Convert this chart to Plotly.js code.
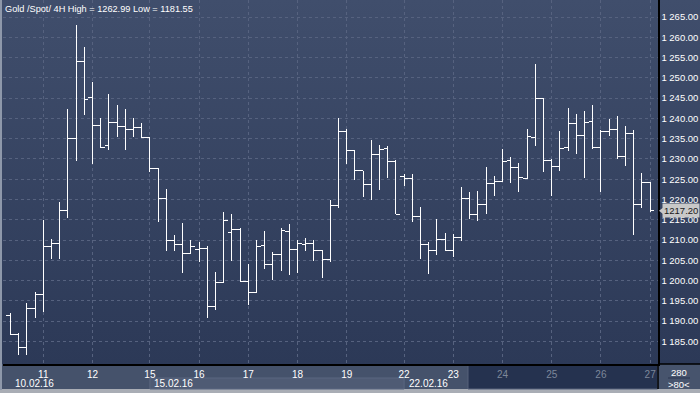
<!DOCTYPE html>
<html><head><meta charset="utf-8">
<script src="https://cdn.plot.ly/plotly-3.0.1.min.js"></script>
<style>
html,body{margin:0;padding:0;background:#2c3957;overflow:hidden;}
#chart{width:700px;height:393px;background:linear-gradient(to bottom,#404e6c 0px,#2c3957 364px,#45526b 364px,#45526b 389px,#a9adb5 389px,#a9adb5 393px);}
#chart .ohlc path{shape-rendering:crispEdges;}
</style></head><body><div id="chart"></div>
<script>
// ---- data (Gold /Spot/ 4H bars, 10.02.16 - 26.02.16) ----
const opens = [1191.44,1186.75,1183.55,1193.17,1196.62,1208.37,1209.20,1217.33,1235.09,1254.08,
1245.04,1238.29,1233.20,1239.03,1238.05,1237.31,1237.80,1235.17,1227.69,1220.21,
1209.77,1208.95,1206.73,1207.72,1207.96,1193.66,1199.58,1211.91,1212.65,1199.82,
1197.11,1208.70,1204.02,1206.48,1212.15,1207.72,1208.95,1209.20,1207.30,1205.25,
1218.57,1236.82,1232.13,1227.12,1223.74,1231.14,1232.70,1229.42,1225.55,1225.22,
1215.77,1208.95,1207.30,1210.18,1207.47,1210.67,1220.21,1216.35,1218.89,1223.91,
1224.40,1229.66,1227.94,1225.22,1235.33,1244.95,1229.66,1228.02,1232.87,1238.71,
1235.83,1239.28,1232.87,1236.82,1237.31,1230.65,1236.32,1218.81,1224.24];
const highs = [1191.93,1187.00,1194.56,1197.28,1214.95,1210.18,1219.31,1242.24,1262.99,1257.53,
1248.90,1240.02,1246.02,1243.31,1242.32,1240.02,1238.79,1235.33,1227.69,1222.51,
1211.25,1214.21,1210.02,1209.52,1208.46,1202.04,1216.84,1216.43,1212.89,1204.10,
1210.02,1212.24,1206.97,1212.89,1213.96,1210.02,1210.51,1210.02,1207.55,1219.88,
1240.02,1237.39,1232.21,1227.12,1234.68,1233.36,1233.20,1229.66,1226.29,1226.29,
1218.07,1209.44,1215.11,1211.66,1211.41,1223.00,1221.77,1222.02,1228.02,1225.80,
1232.38,1230.49,1228.92,1237.39,1253.42,1244.95,1229.91,1236.90,1242.49,1241.01,
1241.83,1243.31,1237.14,1239.86,1240.51,1238.13,1237.14,1226.46,1224.40];
const lows = [1186.59,1181.55,1181.70,1190.70,1192.34,1205.25,1205.25,1215.53,1229.58,1240.92,
1228.84,1232.70,1232.29,1235.50,1232.29,1235.50,1235.17,1226.70,1214.54,1207.39,
1207.39,1201.96,1206.73,1204.67,1190.86,1192.84,1199.58,1204.92,1199.82,1194.07,
1197.11,1202.95,1200.23,1202.45,1201.47,1201.96,1207.39,1204.92,1200.73,1204.67,
1217.99,1228.76,1224.90,1220.70,1219.96,1222.43,1225.39,1216.35,1223.42,1214.54,
1205.41,1201.71,1206.40,1207.22,1205.91,1209.85,1215.28,1214.78,1216.35,1220.95,
1224.24,1224.16,1221.94,1225.06,1233.28,1226.87,1220.95,1227.12,1232.05,1231.31,
1225.39,1232.38,1221.94,1235.58,1229.91,1228.35,1211.33,1217.99,1216.90];
const closes = [1186.75,1183.55,1193.17,1196.62,1208.37,1209.20,1217.33,1235.09,1254.08,1244.71,
1238.29,1232.87,1239.03,1238.05,1237.31,1237.80,1235.17,1227.69,1220.21,1209.77,
1208.95,1206.73,1208.46,1207.96,1193.66,1199.58,1214.87,1212.65,1199.82,1197.11,
1208.37,1204.02,1206.48,1212.40,1207.72,1209.20,1209.20,1207.30,1205.25,1218.57,
1236.82,1232.13,1227.12,1223.74,1231.14,1232.38,1229.42,1216.35,1225.22,1215.77,
1208.95,1207.30,1210.18,1207.47,1210.67,1220.21,1216.35,1218.89,1223.91,1224.40,
1229.33,1227.94,1225.47,1235.58,1244.95,1229.66,1228.02,1232.62,1238.71,1235.83,
1238.95,1232.87,1236.82,1237.31,1230.65,1236.32,1218.81,1224.24,1217.20];
// day boundaries (bar index where each day starts) and their labels
const dayTickBars = [4,10,17,23,29,35,41,48,54,60,66,72,78];
const dayLabels   = ['11','12','15','16','17','18','19','22','23','24','25','26','27'];
const dayFuture   = [false,false,false,false,false,false,false,false,false,true,true,true,true];
const weekBars    = [0,17,48];
const weekLabels  = ['10.02.16','15.02.16','22.02.16'];
const titleText = 'Gold /Spot/ 4H High = 1262.99 Low = 1181.55';
const yTicks = [1185,1190,1195,1200,1205,1210,1215,1220,1225,1230,1235,1240,1245,1250,1255,1260,1265];
const footTop = '280', footBottom = '>80<';

// ---- layout geometry ----
const W = 700, H = 393, ML = 3, MR = 42, MT = 0, MB = 29;
const PW = W - ML - MR, PH = H - MT - MB;
const xr = [-0.915, 78.96], yr = [1179.43, 1269.2];
const xp = px => (px - ML) / PW;
const yp = py => (PH + MT - py) / PH;
const barPx = b => ML + (b - xr[0]) / (xr[1] - xr[0]) * PW;

const xIdx = opens.map((_, i) => i);
const lastClose = closes[closes.length - 1];
const FONT = 'Liberation Sans, Arial, sans-serif';

const trace = {
  type: 'ohlc', x: xIdx, open: opens, high: highs, low: lows, close: closes,
  increasing: {line: {color: '#ffffff', width: 1}},
  decreasing: {line: {color: '#ffffff', width: 1}},
  tickwidth: 0.5, hoverinfo: 'skip', showlegend: false
};

const shapes = [
  {type:'rect', xref:'paper', yref:'paper', x0:xp(barPx(weekBars[1])), x1:xp(barPx(weekBars[2])), y0:yp(389), y1:yp(378),
   fillcolor:'#4f5b74', line:{color:'#5b6780', width:1}, layer:'below'},
  {type:'rect', xref:'paper', yref:'paper', x0:xp(468), x1:xp(657.5), y0:yp(389), y1:yp(365),
   fillcolor:'#25324f', line:{color:'#56617a', width:1}, layer:'below'},
  {type:'rect', xref:'paper', yref:'paper', x0:xp(658), x1:xp(700), y0:yp(389), y1:yp(364.5),
   fillcolor:'#47546d', line:{width:0}, layer:'below'},
  {type:'line', xref:'paper', yref:'paper', x0:xp(658), x1:xp(700), y0:yp(364), y1:yp(364), line:{color:'#000000', width:1.5}},
  {type:'line', xref:'paper', yref:'paper', x0:xp(658), x1:xp(658), y0:yp(364), y1:yp(389), line:{color:'#000000', width:1.5}},
  {type:'line', xref:'paper', yref:'paper', x0:xp(1), x1:xp(1), y0:yp(390), y1:yp(0), line:{color:'#8e98aa', width:2}},
  {type:'line', xref:'paper', yref:'paper', x0:xp(668), x1:xp(690), y0:yp(378), y1:yp(378), line:{color:'#2a3550', width:1}},
  {type:'path', xref:'paper', yref:'y',
   path:'M ' + xp(659) + ',' + lastClose + ' L ' + xp(663) + ',' + (lastClose + 0.75) + ' L ' + xp(663) + ',' + (lastClose - 0.75) + ' Z',
   fillcolor:'#c8c8c8', line:{width:0}}
];

const annotations = [];
weekLabels.forEach((t, i) => annotations.push({
  text: t, xref:'x', x: weekBars[i], xanchor:'left', xshift: 2.5,
  yref:'paper', y: yp(383.5), yanchor:'middle', showarrow:false,
  font:{family:FONT, size:10, color:'#ffffff'}
}));
annotations.push({text: lastClose.toFixed(2), xref:'paper', x: xp(662), xanchor:'left',
  yref:'y', y: lastClose, yanchor:'middle', showarrow:false, bgcolor:'#c8c8c8', borderpad:1,
  font:{family:FONT, size:9.5, color:'#1a1a1a'}});
annotations.push({text: footTop, xref:'paper', x: xp(679), xanchor:'center', yref:'paper', y: yp(372),
  yanchor:'middle', showarrow:false, font:{family:FONT, size:9.5, color:'#ffffff'}});
annotations.push({text: footBottom.replace('<','&lt;').replace('>','&gt;'), xref:'paper', x: xp(679), xanchor:'center', yref:'paper', y: yp(384),
  yanchor:'middle', showarrow:false, font:{family:FONT, size:9.5, color:'#ffffff'}});

const layout = {
  width: W, height: H,
  margin: {l: ML, r: MR, t: MT, b: MB, pad: 0},
  paper_bgcolor: 'rgba(0,0,0,0)', plot_bgcolor: 'rgba(0,0,0,0)',
  separators: '. ',
  showlegend: false,
  title: {text: titleText, xref:'container', x: 5/W, xanchor:'left', yref:'container', y: 1 - 8.5/H, yanchor:'middle',
    font: {family: FONT, size: 9.2, color: '#ffffff'}, pad:{t:0,b:0,l:0,r:0}},
  xaxis: {
    range: xr, fixedrange: true, rangeslider: {visible: false},
    tickmode: 'array', tickvals: dayTickBars,
    ticktext: dayLabels.map((d, i) => dayFuture[i] ? '<span style="color:#7d879a">' + d + '</span>' : d),
    ticks: '', showgrid: true, gridcolor: '#56627f', griddash: '3px,3px', gridwidth: 1,
    zeroline: false, showline: true, linecolor: '#000000', linewidth: 1.5,
    tickfont: {family: FONT, size: 10, color: '#ffffff'}, ticklabelstandoff: 0
  },
  yaxis: {
    range: yr, side: 'right', fixedrange: true,
    tickmode: 'array', tickvals: yTicks, tickformat: ',.2f',
    ticks: '', showgrid: true, gridcolor: '#56627f', griddash: '3px,3px', gridwidth: 1,
    zeroline: false, showline: true, linecolor: '#000000', linewidth: 1.5,
    tickfont: {family: FONT, size: 9.5, color: '#ffffff'}
  },
  shapes: shapes, annotations: annotations
};

Plotly.newPlot('chart', [trace], layout, {displayModeBar: false, staticPlot: true});
</script></body></html>
